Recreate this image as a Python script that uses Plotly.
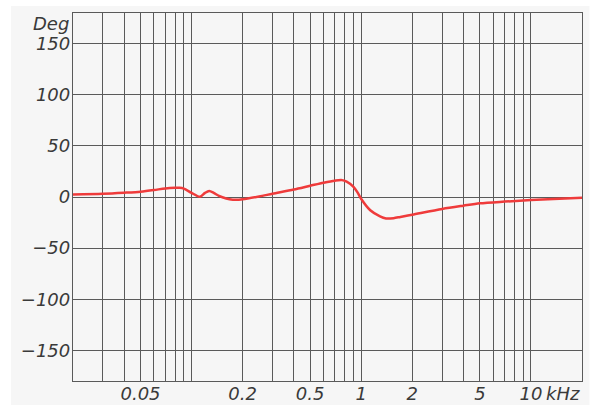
import numpy as np
import plotly.graph_objects as go

# Frequency (kHz) and phase (degrees)
freq_khz = [0.02, 0.03, 0.04, 0.05, 0.06, 0.07, 0.08, 0.085, 0.09, 0.1, 0.112, 0.12,
            0.127, 0.135, 0.145, 0.16, 0.175, 0.19, 0.2, 0.25, 0.3, 0.4, 0.5, 0.6,
            0.7, 0.77, 0.82, 0.9, 0.95, 1.0, 1.13, 1.29, 1.4, 1.55, 1.7, 2.0, 3.0,
            4.0, 5.0, 7.0, 10.0, 20.0]
phase_deg = [2.5, 3.2, 4.2, 5.2, 6.8, 8.4, 9.0, 9.0, 8.2, 4.0, 0.3, 4.0,
             5.8, 4.0, 1.0, -1.5, -2.6, -2.6, -2.3, 0.5, 3.2, 7.3, 11.0, 14.0,
             16.0, 16.5, 15.0, 10.0, 4.5, -2.0, -13.0, -19.0, -21.0, -20.7, -19.5, -17.3, -11.7,
             -8.5, -6.2, -4.5, -3.0, -0.8]

grid_x = [0.02, 0.03, 0.04, 0.05, 0.06, 0.07, 0.08, 0.09, 0.1,
          0.2, 0.3, 0.4, 0.5, 0.6, 0.7, 0.8, 0.9, 1,
          2, 3, 4, 5, 6, 7, 8, 9, 10, 20]
labeled_x = {0.05: "0.05", 0.2: "0.2", 0.5: "0.5", 1: "1", 2: "2", 5: "5", 10: "10"}
y_ticks = [-150, -100, -50, 0, 50, 100, 150]

grid_text = [labeled_x.get(v, "") for v in grid_x]

font_family = "DejaVu Sans"
text_color = "#3a3a3a"
grid_color = "#5a5a5a"
tick_font = dict(family=font_family, size=18, color=text_color, style="italic")

fig = go.Figure()
fig.add_trace(go.Scatter(
    x=freq_khz, y=phase_deg, mode="lines",
    line=dict(color="#ef3b3b", width=2.5, shape="spline", smoothing=0.8),
    hoverinfo="skip", showlegend=False,
))

fig.update_layout(
    width=600, height=413,
    margin=dict(l=73, r=18, t=13, b=32),
    paper_bgcolor="white",
    plot_bgcolor="#f9f9f9",
    font=tick_font,
    xaxis=dict(
        type="log", range=[np.log10(0.02), np.log10(20)],
        tickmode="array", tickvals=grid_x, ticktext=grid_text,
        showgrid=True, gridcolor=grid_color, gridwidth=1.3,
        showline=True, linecolor=grid_color, linewidth=1.3, mirror=True,
        ticks="", zeroline=False, automargin=False, ticklabelstandoff=-4,
        tickfont=tick_font,
    ),
    yaxis=dict(
        range=[-180, 180],
        tickmode="array", tickvals=y_ticks,
        showgrid=True, gridcolor=grid_color, gridwidth=1.3,
        showline=True, linecolor=grid_color, linewidth=1.3, mirror=True,
        ticks="", zeroline=False, automargin=False, ticklabelstandoff=-2,
        tickfont=tick_font,
    ),
    shapes=[dict(
        type="rect", xref="paper", yref="paper", layer="below",
        x0=-0.1217, x1=1.0147, y0=-0.0652, y1=1.019,
        fillcolor="#f6f6f6", line=dict(width=0),
    )],
    annotations=[
        dict(text="Deg", xref="paper", yref="paper", x=-0.004, y=1.0,
             xanchor="right", yanchor="middle", yshift=-10, showarrow=False,
             font=tick_font),
        dict(text="kHz", xref="paper", yref="paper", x=(544 - 73) / 509.5, y=0,
             xanchor="left", yanchor="middle", yshift=-12, showarrow=False,
             font=tick_font),
    ],
)

fig.write_html(
    "out.html",
    config={"displayModeBar": False},
    post_script="document.body.style.margin='0';document.body.style.padding='0';",
)
